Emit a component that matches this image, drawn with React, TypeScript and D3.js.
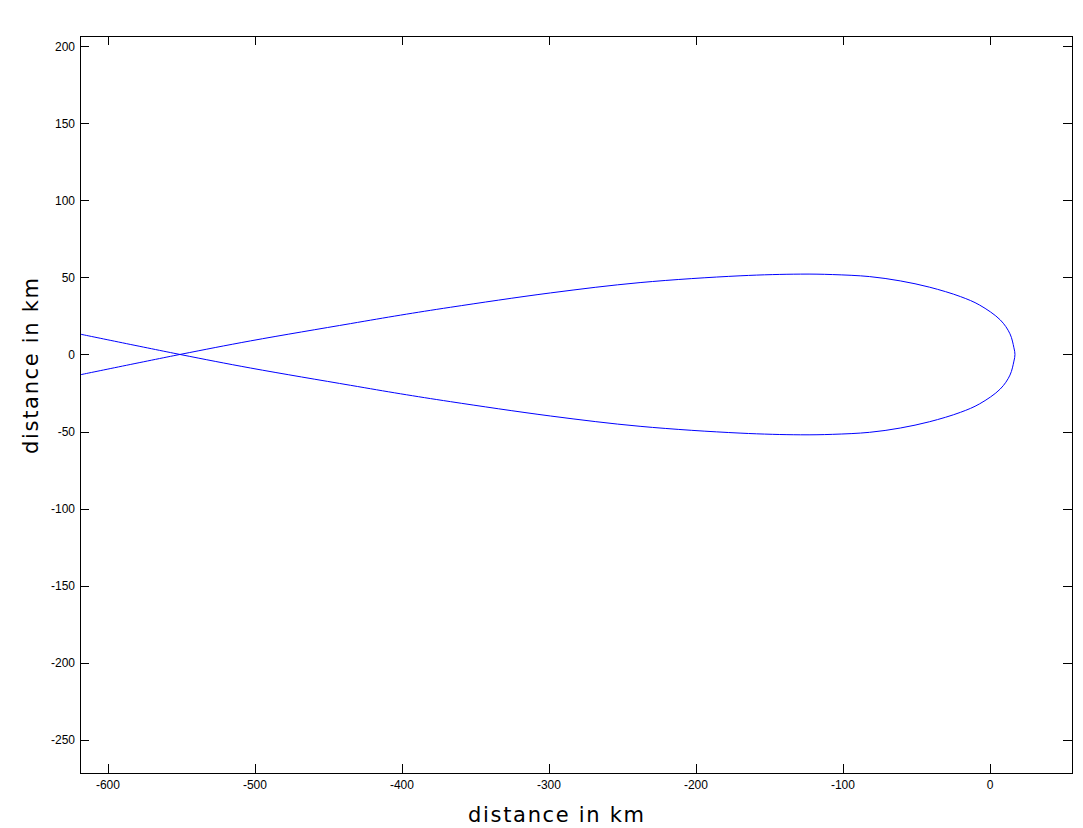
import React, { useRef, useEffect } from 'react';
import { select, scaleLinear, line, curveCatmullRom } from 'd3';

// path positions (km); the loop runs lower branch -> tip -> upper branch
const pathX = [-619, -551, -503, -435, -401, -367, -299, -238, -170, -129, -107, -82, -61, -41, -20, -7, 7, 13.6, 16.3, 17];
const upperY = [-13.2, 0, 8.8, 20.0, 25.5, 30.6, 39.9, 46.6, 51.0, 52.1, 51.8, 50.5, 47.7, 43.6, 37.5, 32.0, 22.4, 13.4, 4.3, 0];
const lowerY = [13.2, 0, -8.8, -20.0, -25.5, -30.6, -39.9, -46.6, -51.0, -52.1, -51.8, -50.5, -47.7, -43.6, -37.5, -32.0, -22.4, -13.4, -4.3, 0];

const xTicks = [-600, -500, -400, -300, -200, -100, 0];
const yTicks = [200, 150, 100, 50, 0, -50, -100, -150, -200, -250];
const xLabel = 'distance in km';
const yLabel = 'distance in km';

const W = 1083;
const H = 828;
const left = 80, right = 1072, top = 36, bottom = 773;
const tickLen = 9;

const App = () => {
  const svgRef = useRef(null);

  useEffect(() => {
    const svg = select(svgRef.current);
    svg.selectAll('*').remove();

    const x = scaleLinear().domain([-619, 55.8]).range([left, right]);
    const y = scaleLinear().domain([-271.4, 206.5]).range([bottom, top]);

    const lowerPts = pathX.map((v, i) => [v, lowerY[i]]);
    const upperPts = pathX.map((v, i) => [v, upperY[i]]).reverse().slice(1);
    const pts = lowerPts.concat(upperPts);

    const curve = line()
      .x(d => x(d[0]))
      .y(d => y(d[1]))
      .curve(curveCatmullRom.alpha(0.5));

    svg.append('path')
      .attr('d', curve(pts))
      .attr('fill', 'none')
      .attr('stroke', '#0000ff')
      .attr('stroke-width', 1);

    // frame
    svg.append('rect')
      .attr('x', left + 0.5)
      .attr('y', top + 0.5)
      .attr('width', right - left)
      .attr('height', bottom - top)
      .attr('fill', 'none')
      .attr('stroke', '#000')
      .attr('stroke-width', 1);

    const ticks = svg.append('g').attr('stroke', '#000').attr('stroke-width', 1);
    xTicks.forEach(t => {
      const px = Math.round(x(t)) + 0.5;
      ticks.append('line').attr('x1', px).attr('x2', px).attr('y1', bottom).attr('y2', bottom - tickLen);
      ticks.append('line').attr('x1', px).attr('x2', px).attr('y1', top).attr('y2', top + tickLen);
    });
    yTicks.forEach(t => {
      const py = Math.round(y(t)) + 0.5;
      ticks.append('line').attr('x1', left).attr('x2', left + tickLen).attr('y1', py).attr('y2', py);
      ticks.append('line').attr('x1', right).attr('x2', right - tickLen).attr('y1', py).attr('y2', py);
    });

    const labels = svg.append('g')
      .attr('font-family', '"Liberation Sans", Arial, sans-serif')
      .attr('font-size', 12)
      .attr('fill', '#000');

    labels.selectAll('.xt')
      .data(xTicks)
      .join('text')
      .attr('class', 'xt')
      .attr('x', d => x(d))
      .attr('y', 789)
      .attr('text-anchor', 'middle')
      .text(d => d);

    labels.selectAll('.yt')
      .data(yTicks)
      .join('text')
      .attr('class', 'yt')
      .attr('x', 75)
      .attr('y', d => y(d) + 4.5)
      .attr('text-anchor', 'end')
      .text(d => d);

    svg.append('text')
      .attr('x', 556)
      .attr('y', 822)
      .attr('text-anchor', 'middle')
      .attr('font-family', '"DejaVu Sans", sans-serif')
      .attr('font-size', 21)
      .attr('textLength', 176)
      .attr('lengthAdjust', 'spacing')
      .text(xLabel);

    svg.append('text')
      .attr('transform', 'translate(38,366) rotate(-90)')
      .attr('text-anchor', 'middle')
      .attr('font-family', '"DejaVu Sans", sans-serif')
      .attr('font-size', 21)
      .attr('textLength', 176)
      .attr('lengthAdjust', 'spacing')
      .text(yLabel);
  }, []);

  return (
    <svg
      ref={svgRef}
      width={W}
      height={H}
      style={{ position: 'absolute', left: 0, top: 0, background: '#fff' }}
    />
  );
};

export default App;
